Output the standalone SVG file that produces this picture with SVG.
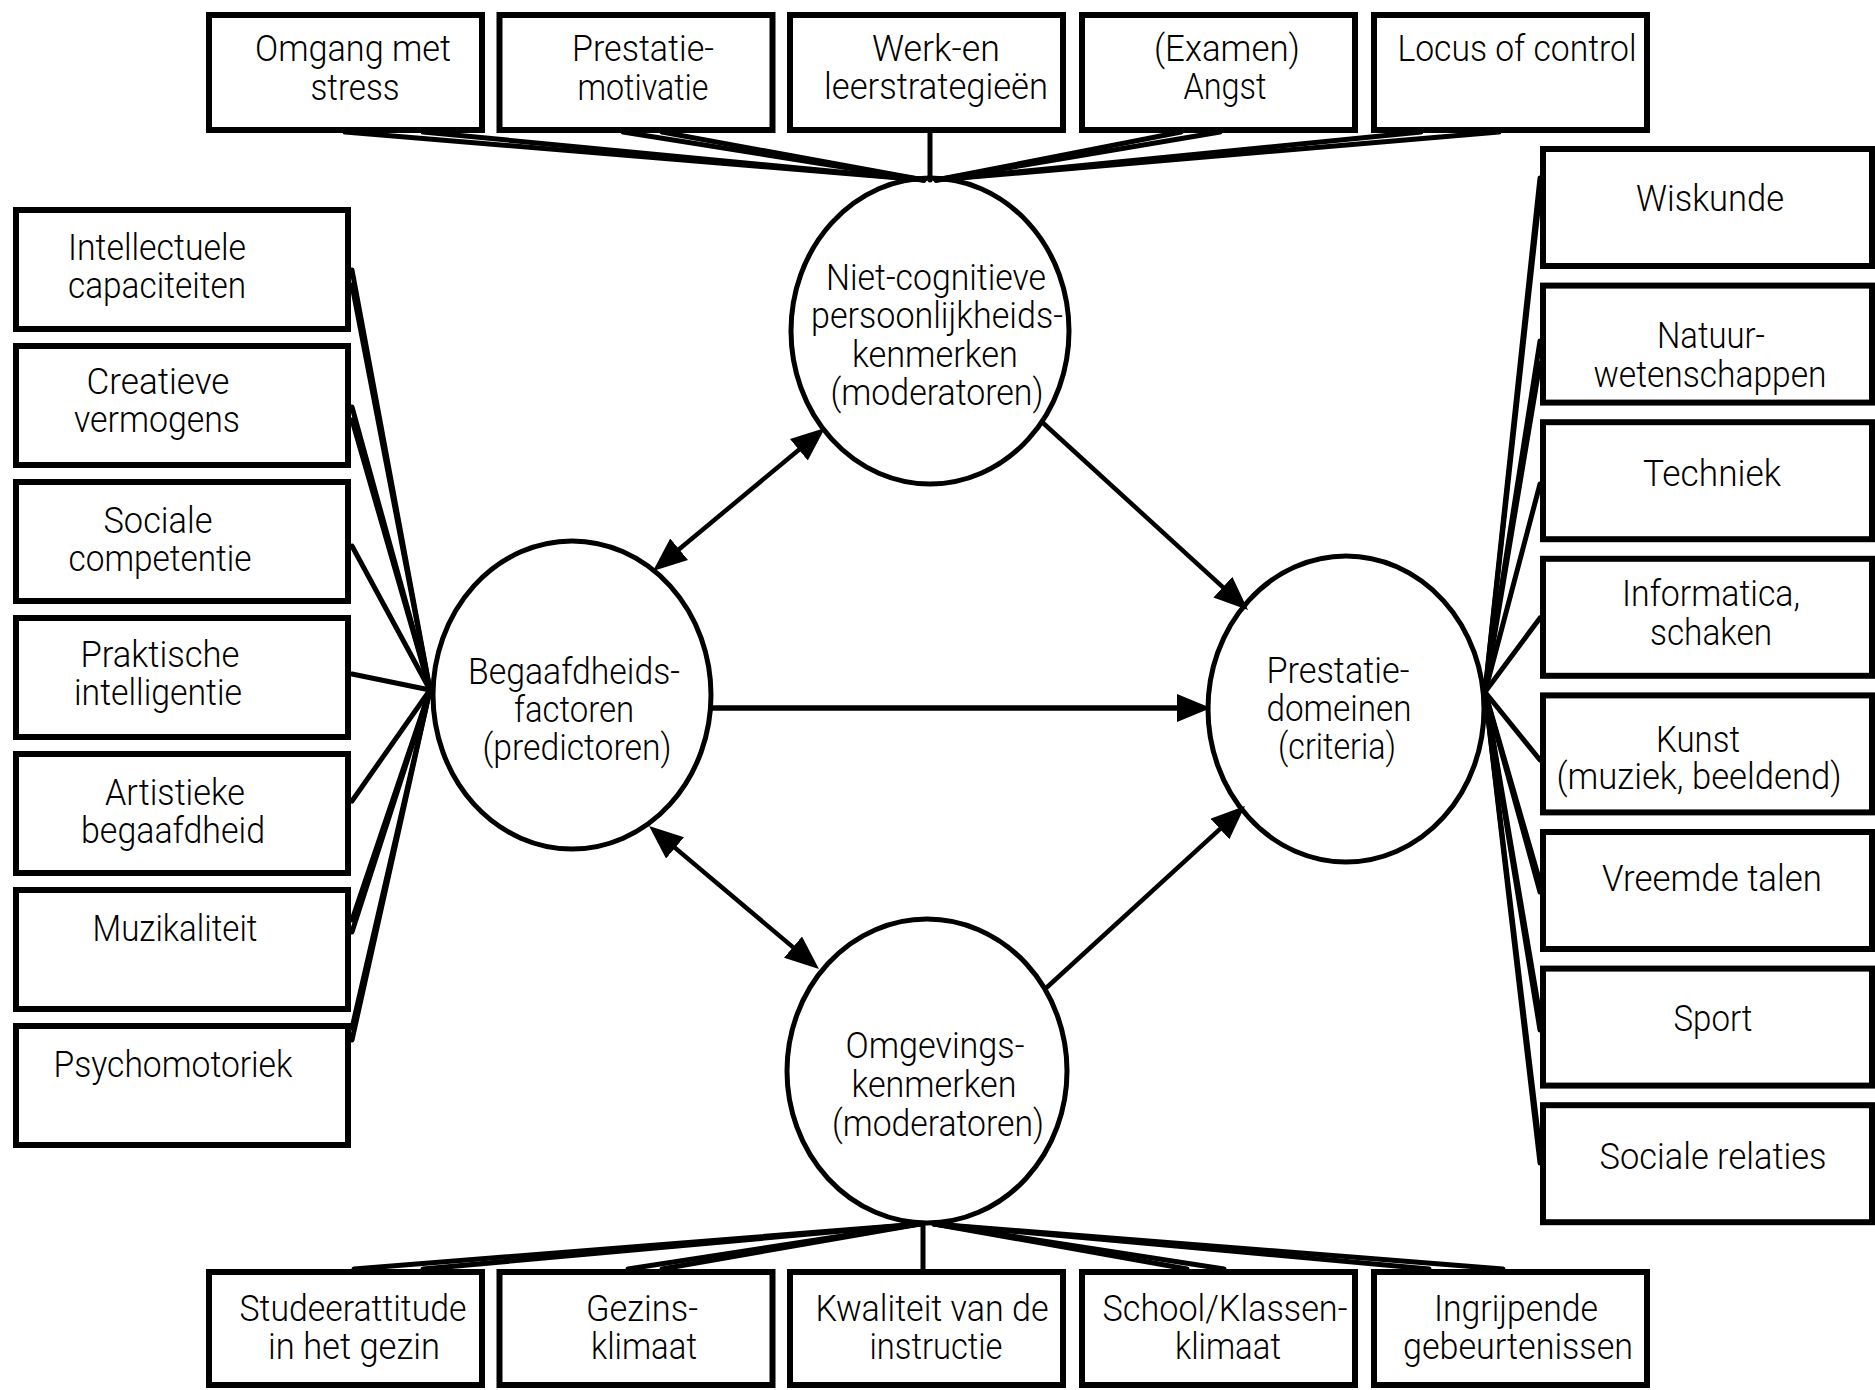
<svg xmlns="http://www.w3.org/2000/svg" width="1875" height="1390" viewBox="0 0 1875 1390">
<style>
.box{fill:#fff;stroke:#000;stroke-width:6}
.node{fill:#fff;stroke:#000;stroke-width:5}
.fan{stroke:#000;stroke-width:5;stroke-linecap:round;fill:none}
.arr{stroke:#000;stroke-width:4.5;fill:none}
text{font-family:Roboto,"Liberation Sans",Arial,sans-serif;font-weight:300;font-size:37px;text-anchor:middle;fill:#000}
</style>
<defs>
<marker id="ah" viewBox="0 0 34 28" refX="24" refY="14" markerWidth="34" markerHeight="28" markerUnits="userSpaceOnUse" orient="auto-start-reverse"><path d="M0,0 L34,14 L0,28 z" fill="#000"/></marker>
</defs>
<rect width="1875" height="1390" fill="#fff"/>

<g id="top-boxes">
<g id="t1"><rect class="box" x="209" y="15" width="273" height="115"/>
<text x="353" y="61" textLength="196" lengthAdjust="spacingAndGlyphs">Omgang met</text>
<text x="355" y="100" textLength="89" lengthAdjust="spacingAndGlyphs">stress</text></g>
<g id="t2"><rect class="box" x="499.5" y="15" width="273" height="115"/>
<text x="643" y="61" textLength="142" lengthAdjust="spacingAndGlyphs">Prestatie-</text>
<text x="643" y="100" textLength="131" lengthAdjust="spacingAndGlyphs">motivatie</text></g>
<g id="t3"><rect class="box" x="790" y="15" width="273" height="115"/>
<text x="936" y="61" textLength="128" lengthAdjust="spacingAndGlyphs">Werk-en</text>
<text x="936" y="99" textLength="224" lengthAdjust="spacingAndGlyphs">leerstrategieën</text></g>
<g id="t4"><rect class="box" x="1082" y="15" width="273" height="115"/>
<text x="1227" y="61" textLength="146" lengthAdjust="spacingAndGlyphs">(Examen)</text>
<text x="1225" y="99" textLength="83" lengthAdjust="spacingAndGlyphs">Angst</text></g>
<g id="t5"><rect class="box" x="1374" y="15" width="273" height="115"/>
<text x="1517" y="61" textLength="239" lengthAdjust="spacingAndGlyphs">Locus of control</text></g>
</g>

<g id="left-boxes">
<g id="l1"><rect class="box" x="16" y="210" width="332" height="119"/>
<text x="157" y="260" textLength="178" lengthAdjust="spacingAndGlyphs">Intellectuele</text>
<text x="157" y="298" textLength="178" lengthAdjust="spacingAndGlyphs">capaciteiten</text></g>
<g id="l2"><rect class="box" x="16" y="346" width="332" height="119"/>
<text x="158" y="394" textLength="143" lengthAdjust="spacingAndGlyphs">Creatieve</text>
<text x="157" y="432" textLength="166" lengthAdjust="spacingAndGlyphs">vermogens</text></g>
<g id="l3"><rect class="box" x="16" y="482" width="332" height="119"/>
<text x="158" y="533" textLength="109" lengthAdjust="spacingAndGlyphs">Sociale</text>
<text x="160" y="571" textLength="183" lengthAdjust="spacingAndGlyphs">competentie</text></g>
<g id="l4"><rect class="box" x="16" y="618" width="332" height="119"/>
<text x="160" y="667" textLength="159" lengthAdjust="spacingAndGlyphs">Praktische</text>
<text x="158" y="705" textLength="168" lengthAdjust="spacingAndGlyphs">intelligentie</text></g>
<g id="l5"><rect class="box" x="16" y="754" width="332" height="119"/>
<text x="175" y="805" textLength="140" lengthAdjust="spacingAndGlyphs">Artistieke</text>
<text x="173" y="843" textLength="184" lengthAdjust="spacingAndGlyphs">begaafdheid</text></g>
<g id="l6"><rect class="box" x="16" y="890" width="332" height="119"/>
<text x="175" y="941" textLength="165" lengthAdjust="spacingAndGlyphs">Muzikaliteit</text></g>
<g id="l7"><rect class="box" x="16" y="1026" width="332" height="119"/>
<text x="173" y="1077" textLength="239" lengthAdjust="spacingAndGlyphs">Psychomotoriek</text></g>
</g>

<g id="right-boxes">
<g id="r1"><rect class="box" x="1543" y="149" width="329" height="117"/>
<text x="1710" y="211" textLength="148" lengthAdjust="spacingAndGlyphs">Wiskunde</text></g>
<g id="r2"><rect class="box" x="1543" y="285.6" width="329" height="117"/>
<text x="1711" y="348" textLength="108" lengthAdjust="spacingAndGlyphs">Natuur-</text>
<text x="1710" y="387" textLength="233" lengthAdjust="spacingAndGlyphs">wetenschappen</text></g>
<g id="r3"><rect class="box" x="1543" y="422.2" width="329" height="117"/>
<text x="1712" y="486" textLength="138" lengthAdjust="spacingAndGlyphs">Techniek</text></g>
<g id="r4"><rect class="box" x="1543" y="558.8" width="329" height="117"/>
<text x="1711" y="606" textLength="178" lengthAdjust="spacingAndGlyphs">Informatica,</text>
<text x="1711" y="645" textLength="122" lengthAdjust="spacingAndGlyphs">schaken</text></g>
<g id="r5"><rect class="box" x="1543" y="695.4" width="329" height="117"/>
<text x="1698" y="752" textLength="84" lengthAdjust="spacingAndGlyphs">Kunst</text>
<text x="1699" y="789" textLength="285" lengthAdjust="spacingAndGlyphs">(muziek, beeldend)</text></g>
<g id="r6"><rect class="box" x="1543" y="832" width="329" height="117"/>
<text x="1712" y="891" textLength="220" lengthAdjust="spacingAndGlyphs">Vreemde talen</text></g>
<g id="r7"><rect class="box" x="1543" y="968.6" width="329" height="117"/>
<text x="1713" y="1031" textLength="79" lengthAdjust="spacingAndGlyphs">Sport</text></g>
<g id="r8"><rect class="box" x="1543" y="1105.2" width="329" height="117"/>
<text x="1713" y="1169" textLength="227" lengthAdjust="spacingAndGlyphs">Sociale relaties</text></g>
</g>

<g id="bottom-boxes">
<g id="b1"><rect class="box" x="209" y="1272" width="273" height="113"/>
<text x="353" y="1321" textLength="227" lengthAdjust="spacingAndGlyphs">Studeerattitude</text>
<text x="354" y="1359" textLength="172" lengthAdjust="spacingAndGlyphs">in het gezin</text></g>
<g id="b2"><rect class="box" x="499.5" y="1272" width="273" height="113"/>
<text x="642" y="1321" textLength="112" lengthAdjust="spacingAndGlyphs">Gezins-</text>
<text x="644" y="1359" textLength="106" lengthAdjust="spacingAndGlyphs">klimaat</text></g>
<g id="b3"><rect class="box" x="790" y="1272" width="273" height="113"/>
<text x="932" y="1321" textLength="233" lengthAdjust="spacingAndGlyphs">Kwaliteit van de</text>
<text x="936" y="1359" textLength="133" lengthAdjust="spacingAndGlyphs">instructie</text></g>
<g id="b4"><rect class="box" x="1082" y="1272" width="273" height="113"/>
<text x="1225" y="1321" textLength="245" lengthAdjust="spacingAndGlyphs">School/Klassen-</text>
<text x="1228" y="1359" textLength="106" lengthAdjust="spacingAndGlyphs">klimaat</text></g>
<g id="b5"><rect class="box" x="1374" y="1272" width="273" height="113"/>
<text x="1516" y="1321" textLength="164" lengthAdjust="spacingAndGlyphs">Ingrijpende</text>
<text x="1518" y="1359" textLength="230" lengthAdjust="spacingAndGlyphs">gebeurtenissen</text></g>
</g>

<g id="circles">
<g id="niet-cognitieve"><ellipse class="node" cx="930" cy="331" rx="139" ry="153"/>
<text x="936" y="290" textLength="220" lengthAdjust="spacingAndGlyphs">Niet-cognitieve</text>
<text x="937" y="328" textLength="252" lengthAdjust="spacingAndGlyphs">persoonlijkheids-</text>
<text x="935" y="367" textLength="166" lengthAdjust="spacingAndGlyphs">kenmerken</text>
<text x="937" y="405" textLength="213" lengthAdjust="spacingAndGlyphs">(moderatoren)</text></g>
<g id="begaafdheid"><ellipse class="node" cx="572" cy="695" rx="139" ry="154"/>
<text x="574" y="684" textLength="212" lengthAdjust="spacingAndGlyphs">Begaafdheids-</text>
<text x="574" y="722" textLength="120" lengthAdjust="spacingAndGlyphs">factoren</text>
<text x="577" y="760" textLength="189" lengthAdjust="spacingAndGlyphs">(predictoren)</text></g>
<g id="prestatie"><ellipse class="node" cx="1346" cy="709" rx="138" ry="153"/>
<text x="1338" y="683" textLength="143" lengthAdjust="spacingAndGlyphs">Prestatie-</text>
<text x="1339" y="721" textLength="145" lengthAdjust="spacingAndGlyphs">domeinen</text>
<text x="1337" y="759" textLength="118" lengthAdjust="spacingAndGlyphs">(criteria)</text></g>
<g id="omgeving"><ellipse class="node" cx="927" cy="1071" rx="140" ry="152"/>
<text x="935" y="1058" textLength="179" lengthAdjust="spacingAndGlyphs">Omgevings-</text>
<text x="934" y="1097" textLength="165" lengthAdjust="spacingAndGlyphs">kenmerken</text>
<text x="938" y="1136" textLength="212" lengthAdjust="spacingAndGlyphs">(moderatoren)</text></g>
</g>

<g id="connectors">
<g id="fan-top">
<line class="fan" x1="345" y1="132" x2="924" y2="180"/>
<line class="fan" x1="423" y1="132" x2="924" y2="180"/>
<line class="fan" x1="623" y1="132" x2="924" y2="180"/>
<line class="fan" x1="662" y1="132" x2="924" y2="180"/>
<line class="fan" x1="930" y1="132" x2="930" y2="180"/>
<line class="fan" x1="1181" y1="132" x2="936" y2="180"/>
<line class="fan" x1="1220" y1="132" x2="936" y2="180"/>
<line class="fan" x1="1421" y1="132" x2="936" y2="180"/>
<line class="fan" x1="1499" y1="132" x2="936" y2="180"/>
</g>
<g id="fan-bottom">
<line class="fan" x1="354" y1="1269" x2="920" y2="1224"/>
<line class="fan" x1="423" y1="1269" x2="920" y2="1224"/>
<line class="fan" x1="628" y1="1269" x2="920" y2="1224"/>
<line class="fan" x1="662" y1="1269" x2="920" y2="1224"/>
<line class="fan" x1="923" y1="1269" x2="923" y2="1224"/>
<line class="fan" x1="1187" y1="1269" x2="934" y2="1224"/>
<line class="fan" x1="1224" y1="1269" x2="934" y2="1224"/>
<line class="fan" x1="1429" y1="1269" x2="934" y2="1224"/>
<line class="fan" x1="1503" y1="1269" x2="934" y2="1224"/>
</g>
<g id="fan-left">
<line class="fan" x1="352" y1="270" x2="430" y2="690"/>
<line class="fan" x1="352" y1="285" x2="430" y2="690"/>
<line class="fan" x1="352" y1="407" x2="430" y2="690"/>
<line class="fan" x1="352" y1="420" x2="430" y2="690"/>
<line class="fan" x1="352" y1="546" x2="430" y2="690"/>
<line class="fan" x1="352" y1="674" x2="430" y2="690"/>
<line class="fan" x1="352" y1="801" x2="430" y2="690"/>
<line class="fan" x1="352" y1="920" x2="430" y2="690"/>
<line class="fan" x1="352" y1="932" x2="430" y2="690"/>
<line class="fan" x1="352" y1="1028" x2="430" y2="690"/>
<line class="fan" x1="352" y1="1040" x2="430" y2="690"/>
</g>
<g id="fan-right">
<line class="fan" x1="1540" y1="178" x2="1485" y2="692"/>
<line class="fan" x1="1540" y1="192" x2="1485" y2="692"/>
<line class="fan" x1="1540" y1="341" x2="1485" y2="692"/>
<line class="fan" x1="1540" y1="363" x2="1485" y2="692"/>
<line class="fan" x1="1540" y1="484" x2="1485" y2="692"/>
<line class="fan" x1="1540" y1="618" x2="1485" y2="692"/>
<line class="fan" x1="1540" y1="760" x2="1485" y2="692"/>
<line class="fan" x1="1540" y1="882" x2="1485" y2="692"/>
<line class="fan" x1="1540" y1="892" x2="1485" y2="692"/>
<line class="fan" x1="1540" y1="1016" x2="1485" y2="692"/>
<line class="fan" x1="1540" y1="1030" x2="1485" y2="692"/>
<line class="fan" x1="1540" y1="1150" x2="1485" y2="692"/>
<line class="fan" x1="1540" y1="1163" x2="1485" y2="692"/>
</g>
<g id="arrows">
<line class="arr" x1="660.7" y1="564.6" x2="817.3" y2="434.4" marker-start="url(#ah)" marker-end="url(#ah)"/>
<line class="arr" x1="1042" y1="422" x2="1240.6" y2="603.3" marker-end="url(#ah)"/>
<line class="arr" x1="710" y1="708" x2="1201" y2="708" marker-end="url(#ah)" style="stroke-width:5.5"/>
<line class="arr" x1="656.7" y1="832.4" x2="811.3" y2="962.6" marker-start="url(#ah)" marker-end="url(#ah)"/>
<line class="arr" x1="1044" y1="990" x2="1237.6" y2="812.8" marker-end="url(#ah)"/>
</g>
</g>
</svg>
